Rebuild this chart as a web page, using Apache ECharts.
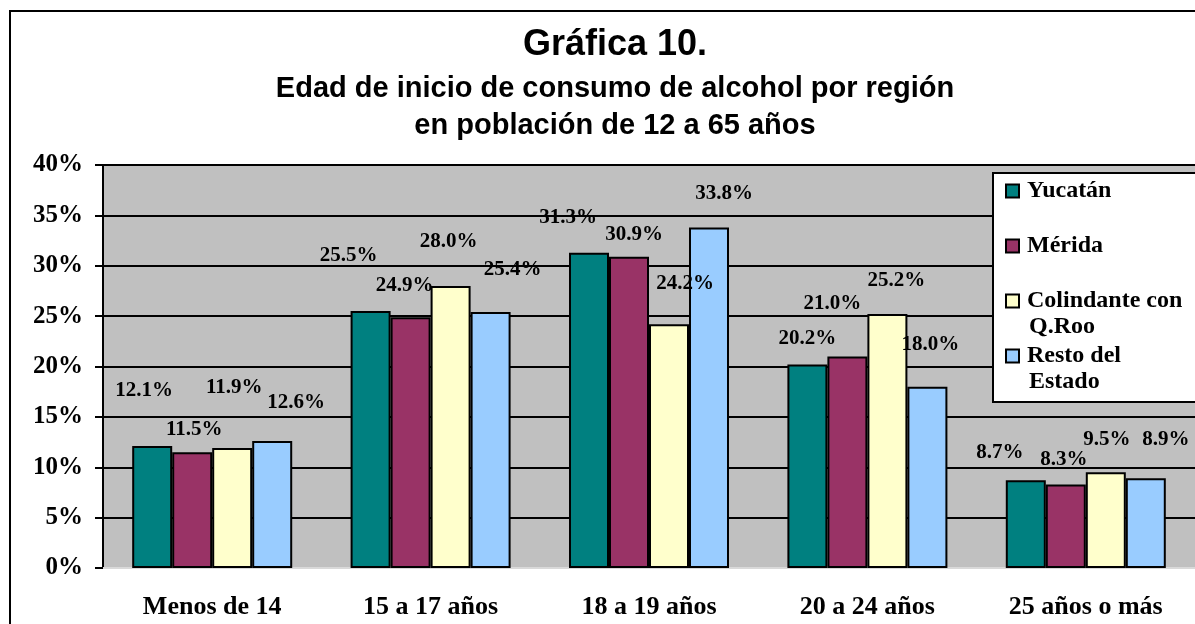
<!DOCTYPE html>
<html>
<head>
<meta charset="utf-8">
<script src="https://cdn.jsdelivr.net/npm/echarts@6/dist/echarts.min.js"></script>
<style>
  html, body { margin: 0; padding: 0; background: #fff; }
  #chart { width: 1195px; height: 624px; }
</style>
</head>
<body>
<div id="chart"></div>
<script>
const categories = ['Menos de 14', '15 a 17 años', '18 a 19 años', '20 a 24 años', '25 años o más'];
const seriesNames = ['Yucatán', 'Mérida', 'Colindante con\nQ.Roo', 'Resto del\nEstado'];
const yucatan = [12.1, 25.5, 31.3, 20.2, 8.7];
const merida = [11.5, 24.9, 30.9, 21.0, 8.3];
const colindante = [11.9, 28.0, 24.2, 25.2, 9.5];
const resto = [12.6, 25.4, 33.8, 18.0, 8.9];
const yTicks = [0, 5, 10, 15, 20, 25, 30, 35, 40];

const colors = ['#008080', '#993366', '#FFFFCC', '#99CCFF'];
const richKeys = ['a', 'b', 'c', 'd'];
// label placement as in the original sheet (dx, height above the bar)
const labelShift = [
  [[-8, 56], [-22, 56], [-21, 35], [0, 26], [-26, 28]],
  [[2, 23], [-6, 32], [5, 22], [-15, 53], [-2, 25]],
  [[2, 61], [-2, 44], [16, 41], [9, 34], [1, 33]],
  [[24, 38], [22, 43], [15, 34], [3, 42], [20, 39]]
];

const serif = '"Liberation Serif", "Times New Roman", serif';
const sans = '"Liberation Sans", Arial, sans-serif';

const chart = echarts.init(document.getElementById('chart'));

const values = [yucatan, merida, colindante, resto];
const series = values.map((vals, s) => ({
  name: seriesNames[s],
  type: 'bar',
  barWidth: 40,
  barGap: '0%',
  itemStyle: { color: colors[s], borderColor: '#000', borderWidth: 2 },
  data: vals.map((v, i) => ({
    value: v,
    label: { offset: [labelShift[s][i][0], -(labelShift[s][i][1] - 10)] }
  })),
  label: {
    show: true,
    position: 'top',
    distance: 0,
    fontFamily: serif,
    fontWeight: 'bold',
    fontSize: 21,
    lineHeight: 20,
    color: '#000',
    formatter: p => p.value.toFixed(1) + '%'
  }
}));

const rich = { t: { fontFamily: serif, fontWeight: 'bold', fontSize: 24, lineHeight: 26, color: '#000', padding: [0, 0, 0, 9] },
               s: { width: 13, height: 13 } };
richKeys.forEach((k, i) => {
  rich[k] = { width: 11, height: 11, backgroundColor: colors[i], borderColor: '#000', borderWidth: 2 };
});

const option = {
  animation: false,
  title: [
    {
      text: 'Gráfica 10.',
      left: 615,
      top: 27,
      padding: 0,
      textAlign: 'center',
      textStyle: { fontFamily: sans, fontWeight: 'bold', fontSize: 36, color: '#000' }
    },
    {
      text: 'Edad de inicio de consumo de alcohol por región\nen población de 12 a 65 años',
      left: 615,
      top: 70,
      padding: 0,
      textAlign: 'center',
      textStyle: { fontFamily: sans, fontWeight: 'bold', fontSize: 29, lineHeight: 37, color: '#000' }
    }
  ],
  legend: {
    orient: 'vertical',
    left: 993,
    top: 173,
    icon: 'none',
    itemWidth: 0,
    itemHeight: 13,
    itemGap: 3,
    padding: [5, 15, 7, 9],
    backgroundColor: '#fff',
    borderColor: '#000',
    borderWidth: 2,
    selectedMode: false,
    data: seriesNames,
    formatter: name => {
      const i = seriesNames.indexOf(name);
      const lines = name.split('\n');
      const first = '{' + richKeys[i] + '|}{t|' + lines[0] + '}';
      const second = lines[1] ? '{s|}{t|' + lines[1] + '}' : '{s|}{t| }';
      return first + '\n' + second;
    },
    textStyle: { rich: rich, lineHeight: 26 }
  },
  graphic: [
    {
      type: 'rect',
      shape: { x: 10, y: 11, width: 1300, height: 700 },
      style: { fill: 'none', stroke: '#000', lineWidth: 2 },
      silent: true,
      z: 100
    }
  ],
  grid: {
    left: 103,
    top: 165,
    width: 1099,
    bottom: 56,
    show: true,
    backgroundColor: '#C0C0C0',
    borderWidth: 0
  },
  xAxis: {
    type: 'category',
    data: categories,
    axisLine: { show: true, lineStyle: { color: '#d9d9d9', width: 2 } },
    axisTick: { show: false },
    axisLabel: { fontFamily: serif, fontWeight: 'bold', fontSize: 26, color: '#000', margin: 26 }
  },
  yAxis: {
    type: 'value',
    min: yTicks[0],
    max: yTicks[yTicks.length - 1],
    interval: yTicks[1] - yTicks[0],
    axisLine: { show: true, lineStyle: { color: '#000', width: 2 } },
    axisTick: { show: true, length: 8, lineStyle: { color: '#000', width: 2 } },
    axisLabel: { fontFamily: serif, fontWeight: 'bold', fontSize: 25, color: '#000', margin: 20, formatter: '{value}%' },
    splitLine: { show: true, lineStyle: { color: '#000', width: 2 } }
  },
  series: series
};

chart.setOption(option);
</script>
</body>
</html>
